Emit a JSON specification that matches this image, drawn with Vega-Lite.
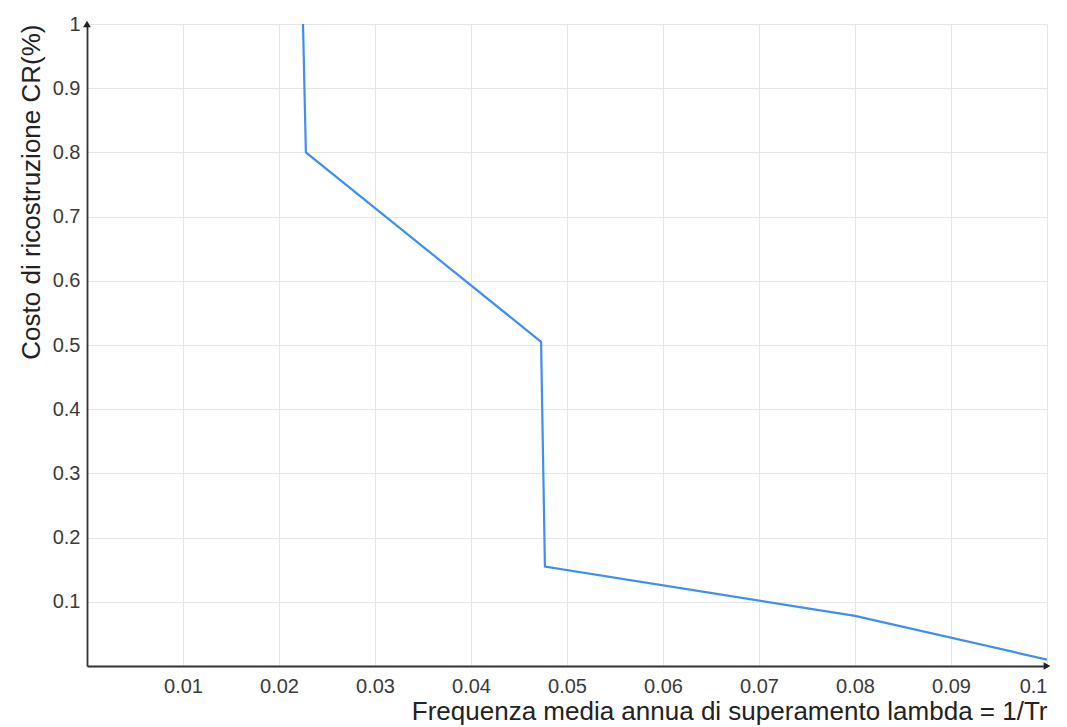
{
  "$schema": "https://vega.github.io/schema/vega-lite/v6.json",
  "width": 960,
  "height": 642,
  "autosize": {"type": "none"},
  "padding": {"left": 87, "top": 24, "right": 20, "bottom": 61},
  "background": "white",
  "config": {
    "view": {"stroke": null},
    "font": "Liberation Sans",
    "axis": {
      "labelFont": "Liberation Sans",
      "titleFont": "Liberation Sans",
      "labelColor": "#3a3a3a",
      "titleColor": "#222222",
      "titleFontWeight": "normal",
      "gridColor": "#e6e6e6",
      "gridWidth": 1,
      "domainColor": "#333333",
      "domainWidth": 1.8,
      "ticks": false
    }
  },
  "datasets": {
    "curve": [
      {"lambda": 0.0225, "cr": 1.0},
      {"lambda": 0.0228, "cr": 0.8},
      {"lambda": 0.0473, "cr": 0.505},
      {"lambda": 0.0477, "cr": 0.155},
      {"lambda": 0.08, "cr": 0.078},
      {"lambda": 0.1, "cr": 0.01}
    ],
    "arrows": [
      {"lambda": 0, "cr": 1.0, "shape": "triangle-up"},
      {"lambda": 0.1, "cr": 0, "shape": "triangle-right"}
    ]
  },
  "layer": [
    {
      "data": {"name": "curve"},
      "mark": {"type": "line", "color": "#3f8ef0", "strokeWidth": 2.2, "clip": false},
      "encoding": {
        "x": {
          "field": "lambda",
          "type": "quantitative",
          "scale": {"domain": [0, 0.1], "nice": false, "zero": true},
          "axis": {
            "values": [0.01, 0.02, 0.03, 0.04, 0.05, 0.06, 0.07, 0.08, 0.09, 0.1],
            "format": ".2~f",
            "grid": true,
            "labelFontSize": 20,
            "labelPadding": 10,
            "title": "Frequenza media annua di superamento lambda = 1/Tr",
            "titleFontSize": 26,
            "titleAnchor": "end",
            "titlePadding": 2
          }
        },
        "y": {
          "field": "cr",
          "type": "quantitative",
          "scale": {"domain": [0, 1], "nice": false},
          "axis": {
            "values": [0.1, 0.2, 0.3, 0.4, 0.5, 0.6, 0.7, 0.8, 0.9, 1],
            "format": ".1~f",
            "grid": true,
            "labelFontSize": 20,
            "labelPadding": 7,
            "title": "Costo di ricostruzione CR(%)",
            "titleFontSize": 26,
            "titleAnchor": "end",
            "titlePadding": 8
          }
        },
        "order": {"field": "cr", "sort": "descending"}
      }
    },
    {
      "data": {"name": "arrows"},
      "mark": {"type": "point", "filled": true, "color": "#222222", "size": 60, "opacity": 1, "clip": false},
      "encoding": {
        "x": {"field": "lambda", "type": "quantitative"},
        "y": {"field": "cr", "type": "quantitative"},
        "shape": {"field": "shape", "type": "nominal", "scale": null, "legend": null}
      }
    }
  ]
}
